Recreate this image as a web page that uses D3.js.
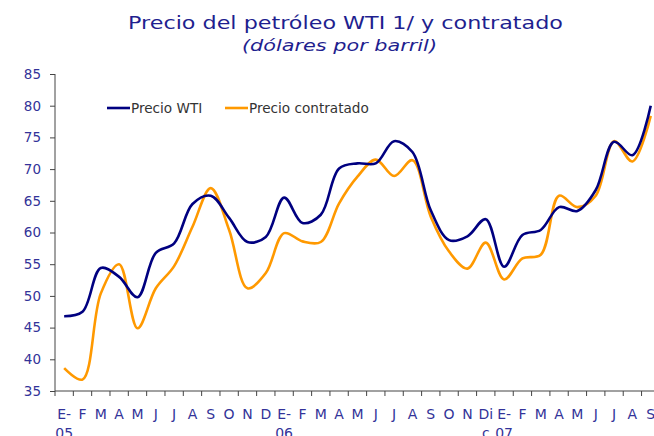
<!DOCTYPE html>
<html>
<head>
<meta charset="utf-8">
<script src="https://cdn.jsdelivr.net/npm/d3@7"></script>
<style>
  body { margin: 0; background: #fff; }
  text { font-family: "DejaVu Sans", Verdana, sans-serif; }
</style>
</head>
<body>
<div id="chart"></div>
<script>
// months E-05 .. S-07, first line / second line of each label
let monthLabels = ['E-','F','M','A','M','J','J','A','S','O','N','D',
                   'E-','F','M','A','M','J','J','A','S','O','N','Di',
                   'E-','F','M','A','M','J','J','A','S'];
let yearLabels = ['05','','','','','','','','','','','',
                  '06','','','','','','','','','','','c',
                  '07','','','','','','','',''];

// Precio WTI
let wti = [46.8, 47.5, 54.4, 53.0, 49.8, 56.8, 58.3, 64.5, 65.8, 62.3, 58.5, 59.3,
           65.5, 61.5, 62.8, 70.1, 70.9, 70.9, 74.4, 72.7, 63.5, 58.8, 59.4, 62.1,
           54.6, 59.6, 60.4, 64.0, 63.4, 66.7, 74.3, 72.2, 80.0];
// Precio contratado
let contratado = [38.6, 36.8, 50.4, 55.0, 44.9, 51.2, 54.7, 60.9, 67.0, 60.4, 51.2, 53.6,
                  59.9, 58.6, 58.5, 64.6, 68.8, 71.5, 68.9, 71.4, 62.5, 57.0, 54.3, 58.4,
                  52.6, 55.9, 56.5, 65.8, 64.0, 65.8, 74.4, 71.2, 78.4];

let yTicks = [35, 40, 45, 50, 55, 60, 65, 70, 75, 80, 85];

let svgWidth = 654;
let svgHeight = 436;
let blue = '#333399';

let svg = d3.select('#chart')
            .append('svg')
            .attr('width', svgWidth)
            .attr('height', svgHeight);

//scales
let idx = d3.range(monthLabels.length);
let xScale = d3.scaleBand()
               .domain(idx)
               .range([55, 55 + 18.33 * idx.length]);
let yScale = d3.scaleLinear()
               .domain([35, 85])
               .range([391, 74]);

//titles (stretched to mimic the wide original face)
svg.append('text')
   .attr('x', 128).attr('y', 29)
   .attr('font-size', 18)
   .attr('fill', '#1f1f8f')
   .attr('textLength', 435)
   .attr('lengthAdjust', 'spacingAndGlyphs')
   .text('Precio del petróleo WTI 1/ y contratado');
svg.append('text')
   .attr('x', 242).attr('y', 51)
   .attr('font-size', 16)
   .attr('font-style', 'italic')
   .attr('fill', '#1f1f8f')
   .attr('textLength', 195)
   .attr('lengthAdjust', 'spacingAndGlyphs')
   .text('(dólares por barril)');

//y axis
let yAxis = d3.axisLeft(yScale).tickValues(yTicks).tickSize(5).tickPadding(9);
let gy = svg.append('g')
            .attr('transform', 'translate(55,0)')
            .call(yAxis);
gy.select('.domain').attr('stroke', '#444').attr('d', 'M0,391V74');
gy.selectAll('.tick line').attr('stroke', '#444');
gy.selectAll('.tick text')
  .attr('fill', blue)
  .attr('font-size', 13.5)
  .style('font-family', '"DejaVu Sans", Verdana, sans-serif');

//x axis: ticks at band boundaries
let gx = svg.append('g');
gx.append('line')
  .attr('x1', 55).attr('x2', svgWidth)
  .attr('y1', 391).attr('y2', 391)
  .attr('stroke', '#444');
gx.selectAll('.xtick')
  .data(idx)
  .enter()
  .append('line')
  .attr('x1', d => xScale(d)).attr('x2', d => xScale(d))
  .attr('y1', 391).attr('y2', 396)
  .attr('stroke', '#444');
gx.selectAll('.xlab')
  .data(idx)
  .enter()
  .append('text')
  .attr('x', d => xScale(d) + xScale.bandwidth() / 2)
  .attr('y', 419)
  .attr('text-anchor', 'middle')
  .attr('font-size', 14)
  .attr('fill', blue)
  .text(d => monthLabels[d]);
gx.selectAll('.ylab')
  .data(idx.filter(d => yearLabels[d] !== ''))
  .enter()
  .append('text')
  .attr('x', d => xScale(d) + xScale.bandwidth() / 2)
  .attr('y', 438)
  .attr('text-anchor', 'middle')
  .attr('font-size', 14)
  .attr('fill', blue)
  .text(d => yearLabels[d]);

//lines
let line = values => d3.line()
                       .x((d, i) => xScale(i) + xScale.bandwidth() / 2)
                       .y(d => yScale(d))
                       .curve(d3.curveCatmullRom.alpha(0.5))(values);

svg.append('path')
   .attr('d', line(contratado))
   .attr('fill', 'none')
   .attr('stroke', '#ff9900')
   .attr('stroke-width', 2.6);
svg.append('path')
   .attr('d', line(wti))
   .attr('fill', 'none')
   .attr('stroke', '#000080')
   .attr('stroke-width', 2.6);

//legend
let legend = [{name: 'Precio WTI', color: '#000080', x: 107},
              {name: 'Precio contratado', color: '#ff9900', x: 225}];
let lg = svg.selectAll('.legend')
            .data(legend)
            .enter()
            .append('g')
            .attr('transform', d => `translate(${d.x},108)`);
lg.append('line')
  .attr('x1', 0).attr('x2', 23)
  .attr('stroke', d => d.color)
  .attr('stroke-width', 2.6);
lg.append('text')
  .attr('x', 24).attr('y', 5)
  .attr('font-size', 13.6)
  .attr('fill', '#333')
  .text(d => d.name);
</script>
</body>
</html>
